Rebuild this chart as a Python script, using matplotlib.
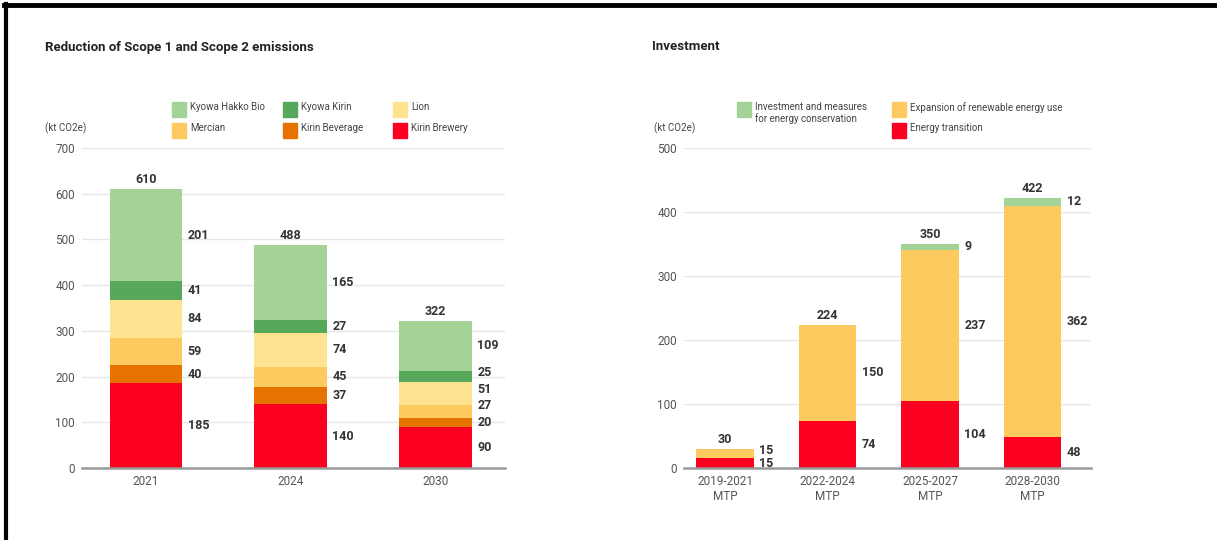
import matplotlib.pyplot as plt
from matplotlib.patches import Rectangle
from matplotlib.lines import Line2D

plt.rcParams['font.family'] = ['Roboto', 'DejaVu Sans']

# left chart data (kt CO2e)
years = ["2021", "2024", "2030"]
kirin_brewery = [185, 140, 90]
kirin_beverage = [40, 37, 20]
mercian = [59, 45, 27]
lion = [84, 74, 51]
kyowa_kirin = [41, 27, 25]
kyowa_hakko_bio = [201, 165, 109]

# right chart data (kt CO2e)
periods = ["2019-2021\nMTP", "2022-2024\nMTP", "2025-2027\nMTP", "2028-2030\nMTP"]
energy_transition = [15, 74, 104, 48]
renewable = [15, 150, 237, 362]
conservation = [0, 0, 9, 12]

RED = "#fc0021"
ORANGE = "#e67300"
GOLD = "#fdca5f"
PALE = "#fee490"
GREEN = "#57a85a"
LGREEN = "#a4d398"

W, H = 1217, 540
fig = plt.figure(figsize=(W / 100, H / 100), dpi=100)


def fx(px):
    return px / W


def fy(py):
    return 1 - py / H


def stacked(ax, cats, series, colors, width, ymax, step, gap):
    x = list(range(len(cats)))
    bottoms = [0] * len(cats)
    mids = [[] for _ in cats]
    for vals, col in zip(series, colors):
        ax.bar(x, vals, width, bottom=bottoms, color=col, zorder=2)
        for i, v in enumerate(vals):
            if v > 0:
                mids[i].append((bottoms[i] + v / 2, v))
        bottoms = [b + v for b, v in zip(bottoms, vals)]
    # value labels to the right, pushed apart when too close
    for i in x:
        prev = None
        for pos, v in mids[i]:
            if prev is not None and pos < prev + gap:
                pos = prev + gap
            prev = pos
            ax.annotate(str(v), xy=(i + width / 2, pos), xytext=(4, 0),
                        textcoords="offset points", va="center", ha="left",
                        fontsize=9, fontweight="bold", color="#333333")
        ax.annotate(str(bottoms[i]), xy=(i, bottoms[i]), xytext=(0, 2),
                    textcoords="offset points", va="bottom", ha="center",
                    fontsize=9, fontweight="bold", color="#333333")
    ax.set_xticks(x)
    ax.set_xticklabels(cats)
    ax.set_ylim(0, ymax)
    ax.set_yticks(range(0, ymax + 1, step))
    ax.yaxis.grid(True, color="#e6e6e6", lw=1)
    ax.set_axisbelow(True)
    for s in ["top", "right", "left"]:
        ax.spines[s].set_visible(False)
    ax.spines["bottom"].set_color("#999999")
    ax.spines["bottom"].set_linewidth(1.8)
    ax.spines["bottom"].set_zorder(3)
    ax.tick_params(length=0, labelsize=8.5, labelcolor="#555555")
    ax.tick_params(axis="y", pad=5)
    ax.tick_params(axis="x", pad=5)


def legend(items, cols_px, rows_px):
    for (label, col), cx, cy in zip(items, cols_px, rows_px):
        fig.patches.append(Rectangle((fx(cx), fy(cy + 7)), fx(14), 15 / H,
                                     color=col, transform=fig.transFigure))
        fig.text(fx(cx + 18), fy(cy - 8), label, fontsize=7, color="#444444",
                 va="top", ha="left", linespacing=1.1)


# left chart
ax1 = fig.add_axes([fx(82), fy(468), fx(505 - 82), (468 - 148) / H])
stacked(ax1, years,
        [kirin_brewery, kirin_beverage, mercian, lion, kyowa_kirin, kyowa_hakko_bio],
        [RED, ORANGE, GOLD, PALE, GREEN, LGREEN], 0.5, 700, 100, 36)
ax1.set_xlim(-0.44, 2.48)

# right chart
ax2 = fig.add_axes([fx(684), fy(468), fx(1091 - 684), (468 - 148) / H])
stacked(ax2, periods, [energy_transition, renewable, conservation],
        [RED, GOLD, LGREEN], 0.56, 500, 100, 20)
ax2.set_xlim(-0.40, 3.57)

# titles and units
fig.text(fx(45), fy(47), "Reduction of Scope 1 and Scope 2 emissions",
         fontsize=9.5, fontweight="bold", color="#222222", va="center")
fig.text(fx(652), fy(47), "Investment", fontsize=9.5, fontweight="bold",
         color="#222222", va="center")
fig.text(fx(45), fy(128), "(kt CO2e)", fontsize=7, color="#444444", va="center")
fig.text(fx(654), fy(128), "(kt CO2e)", fontsize=7, color="#444444", va="center")

legend([("Kyowa Hakko Bio", LGREEN), ("Kyowa Kirin", GREEN), ("Lion", PALE),
        ("Mercian", GOLD), ("Kirin Beverage", ORANGE), ("Kirin Brewery", RED)],
       [172, 283, 393, 172, 283, 393], [110, 110, 110, 131, 131, 131])
legend([("Investment and measures\nfor energy conservation", LGREEN),
        ("Expansion of renewable energy use", GOLD), ("Energy transition", RED)],
       [737, 892, 892], [110, 110, 131])

# black frame on top and left
fig.add_artist(Line2D([fx(4), 1], [fy(5), fy(5)], color="black", lw=3.5,
                      transform=fig.transFigure))
fig.add_artist(Line2D([fx(5.5), fx(5.5)], [0, fy(4)], color="black", lw=3,
                      transform=fig.transFigure))

fig.savefig("out.png", dpi=100)
